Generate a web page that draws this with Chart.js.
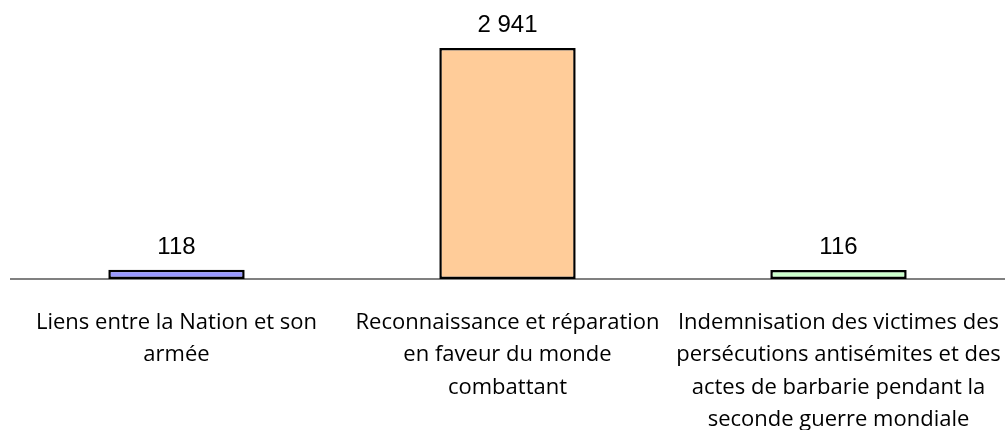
<!DOCTYPE html>
<html>
<head>
<meta charset="utf-8">
<script src="https://cdn.jsdelivr.net/npm/chart.js@4"></script>
<style>
html,body{margin:0;padding:0;background:#fff;}
#wrap{width:1005px;height:430px;position:relative;}
</style>
</head>
<body>
<div id="wrap"><canvas id="c" width="1005" height="430"></canvas></div>
<script>
const categories = [
  ["Liens entre la Nation et son", "armée"],
  ["Reconnaissance et réparation", "en faveur du monde", "combattant"],
  ["Indemnisation des victimes des", "persécutions antisémites et des", "actes de barbarie pendant la", "seconde guerre mondiale"]
];
const values = [118, 2941, 116];
const barColors = ["#9999FF", "#FFCC99", "#CCFFCC"];

function fmt(v){ return String(v).replace(/\B(?=(\d{3})+(?!\d))/g, " "); }

const valueLabels = {
  id: "valueLabels",
  afterDatasetsDraw(chart){
    const ctx = chart.ctx;
    const meta = chart.getDatasetMeta(0);
    ctx.save();
    ctx.font = "24px 'Liberation Sans', Arial, sans-serif";
    ctx.fillStyle = "#000";
    ctx.textAlign = "center";
    ctx.textBaseline = "alphabetic";
    meta.data.forEach((bar, i) => {
      ctx.fillText(fmt(values[i]), bar.x, bar.y - 16);
    });
    ctx.restore();
  }
};

new Chart(document.getElementById("c"), {
  type: "bar",
  data: {
    labels: categories,
    datasets: [{
      data: values,
      backgroundColor: barColors,
      borderColor: "#000",
      borderWidth: 2.5,
      borderSkipped: false,
      barPercentage: 0.412,
      categoryPercentage: 1
    }]
  },
  options: {
    responsive: false,
    animation: false,
    devicePixelRatio: 1,
    layout: { padding: { left: 11, right: 1, top: 0, bottom: 0 } },
    plugins: { legend: { display: false }, tooltip: { enabled: false } },
    scales: {
      y: { display: false, min: 0, max: 3552 },
      x: {
        grid: { display: false, drawTicks: false },
        border: { display: true, color: "#808080", width: 2 },
        ticks: {
          color: "#000",
          font: { family: "'Open Sans', sans-serif", size: 22, lineHeight: 1.477 },
          padding: 27,
          maxRotation: 0,
          minRotation: 0,
          autoSkip: false
        },
        afterFit(scale){ scale.height = 151; scale.paddingLeft = 0; scale.paddingRight = 0; }
      }
    }
  },
  plugins: [valueLabels]
});
</script>
</body>
</html>
